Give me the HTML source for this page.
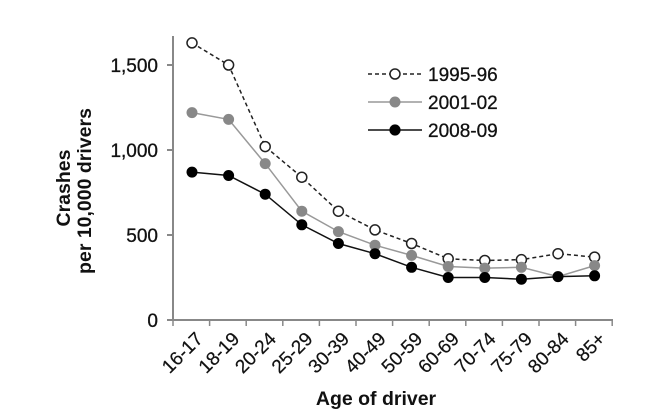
<!DOCTYPE html>
<html><head><style>body{margin:0;background:#fff}svg{display:block}</style></head>
<body>
<svg width="670" height="416" xmlns="http://www.w3.org/2000/svg" font-family="Liberation Sans, Arial, sans-serif">
<g stroke="#888" stroke-width="2" fill="none">
<line x1="173" y1="36" x2="173" y2="321"/>
<line x1="167" y1="320" x2="613" y2="320"/>
<line x1="167" y1="235" x2="173" y2="235"/>
<line x1="167" y1="150" x2="173" y2="150"/>
<line x1="167" y1="65" x2="173" y2="65"/>
</g>
<g stroke="#888" stroke-width="1.5" id="ticks"></g>
<g font-size="19" fill="#111" text-anchor="end" stroke="#111" stroke-width="0.3">
<text x="158" y="327">0</text>
<text x="158" y="242">500</text>
<text x="158" y="157">1,000</text>
<text x="158" y="72">1,500</text>
</g>
<g font-size="19.5" font-weight="bold" fill="#111" text-anchor="middle">
<text transform="translate(70,188) rotate(-90)">Crashes</text>
<text transform="translate(91,191) rotate(-90)">per 10,000  drivers</text>
<text x="376" y="405">Age of driver</text>
</g>
<g id="xl" font-size="19" fill="#111" text-anchor="end" stroke="#111" stroke-width="0.2"></g>
<g id="series"></g>
<g font-size="19" fill="#111" stroke="#111" stroke-width="0.3">
<line x1="368" y1="74" x2="422" y2="74" stroke="#222" stroke-width="1.5" stroke-dasharray="4,3"/>
<circle cx="395" cy="74" r="5" fill="#fff" stroke="#222" stroke-width="1.5"/>
<text x="428" y="81">1995-96</text>
<line x1="368" y1="102" x2="422" y2="102" stroke="#999" stroke-width="1.5"/>
<circle cx="395" cy="102" r="5.5" fill="#888" stroke="none"/>
<text x="428" y="109">2001-02</text>
<line x1="368" y1="130" x2="422" y2="130" stroke="#111" stroke-width="1.5"/>
<circle cx="395" cy="130" r="5.5" fill="#000"/>
<text x="428" y="137">2008-09</text>
</g>
<script>
var NS="http://www.w3.org/2000/svg";
function el(t,a,p){var e=document.createElementNS(NS,t);for(var k in a)e.setAttribute(k,a[k]);p.appendChild(e);return e;}
var tk=document.getElementById('ticks');
for(var i=0;i<=12;i++){var x=173+i*36.6;el('line',{x1:x,y1:320,x2:x,y2:326},tk);}
var labs=["16-17","18-19","20-24","25-29","30-39","40-49","50-59","60-69","70-74","75-79","80-84","85+"];
var xl=document.getElementById('xl');
labs.forEach(function(l,i){var x=192+i*36.6+12,y=340;var t=el('text',{transform:'translate('+x+','+y+') rotate(-45)'},xl);t.textContent=l;});
var d=[
{v:[1630,1500,1020,840,640,530,450,360,350,355,390,370],s:"#222",f:"#fff",dash:"4,3",r:5},
{v:[1220,1180,920,640,520,440,380,315,305,310,255,320],s:"#999",f:"#888",dash:"",r:5.5},
{v:[870,850,740,560,450,390,310,250,250,240,255,260],s:"#111",f:"#000",dash:"",r:5.5}];
var g=document.getElementById('series');
d.forEach(function(s){var pts=s.v.map(function(v,i){return [192+i*36.6,320-v*0.17];});
var a={points:pts.map(function(p){return p.join(',')}).join(' '),fill:'none',stroke:s.s,'stroke-width':1.5};
if(s.dash)a['stroke-dasharray']=s.dash;el('polyline',a,g);
pts.forEach(function(p){var c={cx:p[0],cy:p[1],r:s.r,fill:s.f};if(s.f=="#fff"){c.stroke="#222";c['stroke-width']=1.5;}el('circle',c,g);});});
</script>
</svg>
</body></html>
